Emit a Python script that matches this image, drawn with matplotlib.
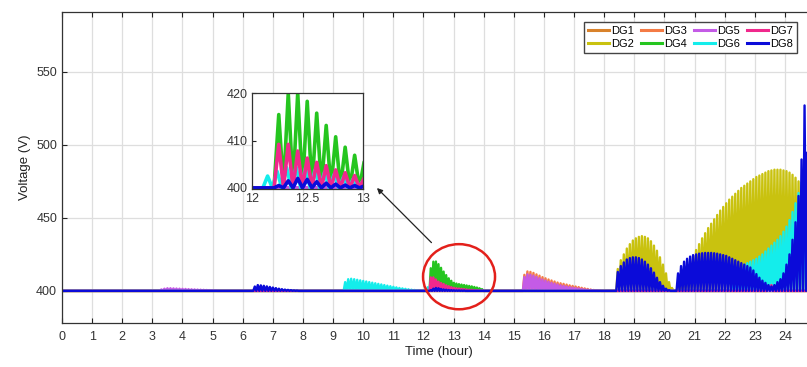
import numpy as np
import matplotlib
matplotlib.use("Agg")
import matplotlib.pyplot as plt
from matplotlib.patches import Ellipse

plt.rcParams['font.family'] = ['Liberation Sans', 'DejaVu Sans']

# ---- data ----
# each burst: (start hour, spacing of peaks in hours, peak voltages); troughs fall back to 400 V
names = ['DG1', 'DG2', 'DG3', 'DG4', 'DG5', 'DG6', 'DG7', 'DG8']
colors = ['#D9822B', '#C9C20F', '#F47B45', '#25C51F', '#C45BE6', '#14EDEB', '#F0288C', '#0B0BD9']

dg2_hump1 = [415, 421, 425, 429, 432, 434.5, 436, 437, 437.5, 437, 436, 434, 431, 427.5,
             423, 418, 412, 406, 402]
dg2_hump2 = [403, 407, 412, 416, 420, 424, 428, 432, 436, 439.5, 443, 446, 449, 452, 455,
             457.5, 460, 462.5, 464.5, 466.5, 468.5, 470.5, 472, 473.5, 475, 476.5, 478, 479,
             480, 481, 482, 482.5, 483, 483, 483, 482.5, 482, 481, 479.5, 477.5, 475, 472,
             468, 463, 458]

dg3_burst = [411, 413.3, 413, 412.3, 411.3, 410.4, 409.4, 408.6, 407.8, 407.1, 406.4, 405.7,
             405.2, 404.8, 404.3, 403.8, 403.4, 403, 402.6, 402.1, 401.7, 401.3, 400.9, 400.6,
             400.4, 400.2]

dg4_burst = [415.5, 420, 420.1, 418.3, 415.8, 413.2, 410.8, 408.6, 406.9, 405.5, 405, 404.6,
             404.3, 404, 403.7, 403.4, 403.1, 402.7, 402.3, 401.8, 401.2]

dg5_ripple = [401, 401.5, 401.8, 401.8, 401.7, 401.6, 401.5, 401.4, 401.3, 401.2, 401.1, 401,
              400.9, 400.8, 400.7, 400.6, 400.5, 400.4, 400.3]
dg5_burst = [409.5, 411.3, 411, 410.4, 409.5, 408.6, 407.7, 407, 406.2, 405.5, 404.9, 404.3,
             403.8, 403.4, 403, 402.6, 402.2, 401.9, 401.6, 401.3, 401, 400.8, 400.6, 400.4,
             400.3, 400.2]

dg6_burst1 = [406, 408, 408.3, 408, 407.6, 407.2, 406.8, 406.4, 406, 405.6, 405.2, 404.8, 404.4,
              404, 403.6, 403.2, 402.8, 402.4, 402, 401.7, 401.4, 401.1, 400.8, 400.6, 400.4,
              400.2]
dg6_burst2 = [402.5, 403.5, 404.3, 404.4, 404.2, 403.8, 403.3, 402.8, 402.3, 401.8, 401.3,
              400.9, 400.5]
dg6_burst3 = [411, 413, 415, 416.5, 418, 419, 420, 421, 422, 423.5, 425, 427, 429, 431, 433,
              435, 437.5, 440.5, 444, 448.5, 454, 460, 467, 474, 480, 485, 488, 490]

dg7_burst1 = [409.2, 409.2, 407.8, 406.3, 405.4, 404.7, 403.8, 403.2, 402.6, 402.1, 401.8,
              401.6, 401.4, 401.2, 401, 400.8, 400.7, 400.5, 400.4, 400.3, 400.2]
dg7_burst2 = [403.5, 404]

dg8_bump = [403, 404, 403.8, 403.5, 403.1, 402.7, 402.3, 401.9, 401.5, 401.2, 400.9, 400.7,
            400.5, 400.3, 400.2]
dg8_burst1 = [400.5, 401.5, 402, 401.8, 401.3, 401, 400.8, 400.6, 400.5, 400.4, 400.3, 400.3,
              400.2, 400.2]
dg8_hump1 = [413, 417, 419.5, 421.5, 422.5, 423, 423, 422.5, 421.5, 420, 418, 415.5, 412.5,
             409, 406, 403.5, 401.5, 400.5]
dg8_hump2 = [412, 417, 420, 422, 423.5, 424.5, 425, 425.5, 425.8, 426, 426, 426, 425.8, 425.5,
             425, 424.5, 424, 423, 422, 421, 420, 419, 418, 417, 416, 414, 411.5, 409, 407,
             405.5, 404, 403, 404, 406, 408, 412, 418, 425, 435, 447, 465, 490, 527, 495, 480,
             470]

bursts = {
    'DG1': [],
    'DG2': [(18.4, 0.1, dg2_hump1), (20.4, 0.1, dg2_hump2)],
    'DG3': [(15.3, 0.1, dg3_burst)],
    'DG4': [(12.2, 0.085, dg4_burst)],
    'DG5': [(3.25, 0.1, dg5_ripple), (15.3, 0.1, dg5_burst)],
    'DG6': [(9.35, 0.1, dg6_burst1), (12.1, 0.085, dg6_burst2), (22.2, 0.1, dg6_burst3)],
    'DG7': [(12.2, 0.085, dg7_burst1), (23.4, 0.1, dg7_burst2)],
    'DG8': [(6.35, 0.1, dg8_bump), (12.2, 0.085, dg8_burst1), (18.4, 0.1, dg8_hump1),
            (20.4, 0.1, dg8_hump2)],
}


def zigzag(start, step, peaks, base=400.0):
    n = len(peaks)
    t = start + step * np.arange(2 * n + 1) / 2
    v = np.full(2 * n + 1, base)
    v[1::2] = peaks
    return t, v


def build(parts):
    ts, vs = [np.array([0.0])], [np.array([400.0])]
    for start, step, peaks in parts:
        t, v = zigzag(start, step, peaks)
        ts.append(t)
        vs.append(v)
    ts.append(np.array([25.0]))
    vs.append(np.array([400.0]))
    return np.concatenate(ts), np.concatenate(vs)


series = {n: build(bursts[n]) for n in names}

# ---- figure ----
W, H = 807, 367
fig = plt.figure(figsize=(W / 100, H / 100), dpi=100)
ax = fig.add_axes([62 / W, 1 - 323 / H, 753.1 / W, 311 / H])

for n, c in zip(names, colors):
    t, v = series[n]
    ax.plot(t, v, color=c, lw=1.7, label=n)

ax.set_xlim(0, 25)
ax.set_ylim(378, 591)
ax.set_xticks(np.arange(0, 25))
ax.set_yticks([400, 450, 500, 550])
ax.grid(True, color='#dedede', lw=0.9)
ax.set_axisbelow(True)
ax.tick_params(direction='in', top=True, right=True, length=3.5, width=0.8,
               labelsize=9, labelcolor='#333333', color='#222222')
ax.tick_params(axis='x', pad=6)
for s in ax.spines.values():
    s.set_color('#333333')
    s.set_linewidth(0.9)
ax.set_xlabel('Time (hour)', fontsize=9.5, color='#222222', labelpad=2)
ax.set_ylabel('Voltage (V)', fontsize=9.5, color='#222222', labelpad=4)

# red circle + arrow to the zoom box
ax.add_patch(Ellipse((13.18, 409.7), 2.39, 44.6, fill=False, edgecolor='#E3201B', lw=1.8,
                     zorder=5))
ax.annotate('', xy=(10.39, 471.8), xytext=(12.33, 431.7),
            arrowprops=dict(arrowstyle='-|>', color='#222222', lw=0.9, mutation_scale=8))

fig.legend(loc='upper right', bbox_to_anchor=(797 / W, 1 - 21.7 / H), borderaxespad=0,
           ncol=4, fontsize=8, handlelength=1.9, handletextpad=0.2, columnspacing=0.6,
           labelspacing=0.3, borderpad=0.35, fancybox=False, framealpha=1,
           edgecolor='#444444')
for line in fig.legends[0].get_lines():
    line.set_linewidth(2.2)

# inset: 12 h - 13 h
axin = fig.add_axes([251.7 / W, 1 - 189.3 / H, 111.6 / W, 96 / H])
for n, c in zip(names, colors):
    t, v = series[n]
    axin.plot(t, v, color=c, lw=2.6)
axin.set_xlim(12, 13)
axin.set_ylim(399.7, 420)
axin.set_xticks([12, 12.5, 13])
axin.set_xticklabels(['12', '12.5', '13'])
axin.set_yticks([400, 410, 420])
axin.tick_params(direction='in', length=3, width=0.8, labelsize=9, labelcolor='#333333',
                 color='#222222', pad=3)
for s in axin.spines.values():
    s.set_color('#333333')
    s.set_linewidth(0.9)

fig.savefig('out.png', dpi=100)
